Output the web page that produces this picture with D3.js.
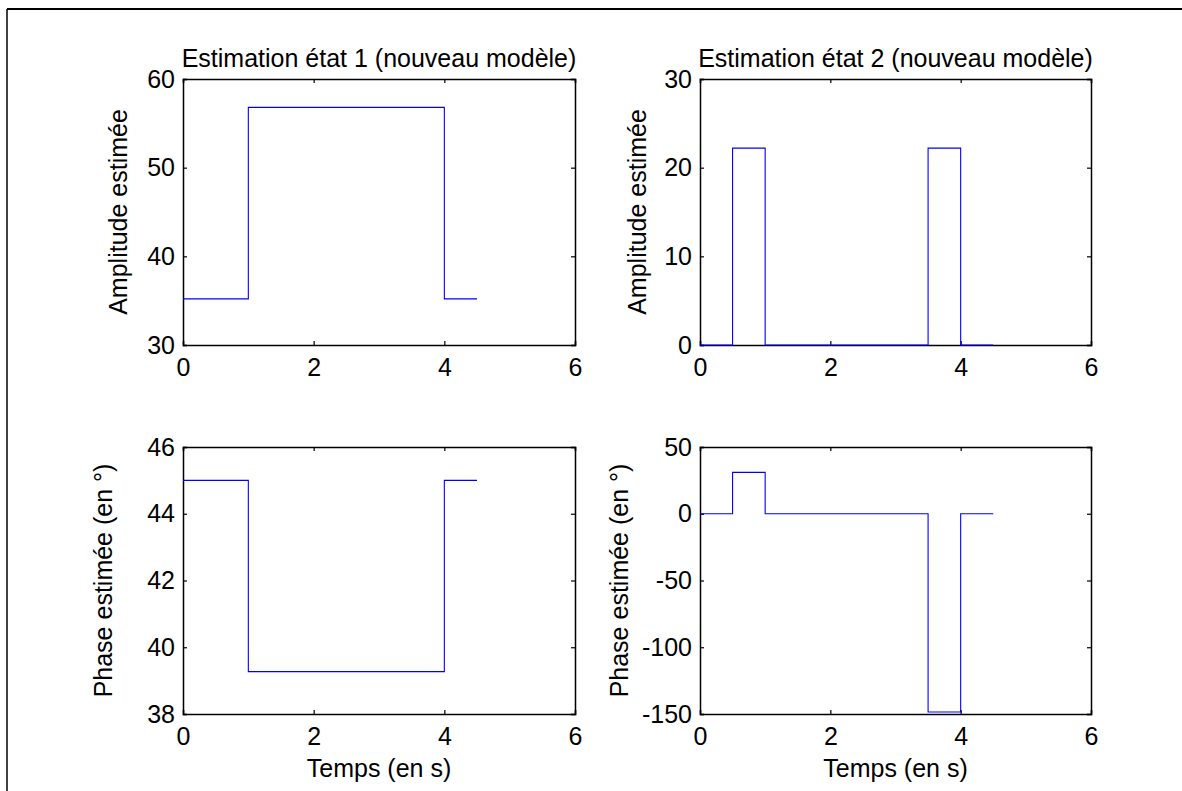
<!DOCTYPE html>
<html>
<head>
<meta charset="utf-8">
<script src="https://cdn.jsdelivr.net/npm/d3@7"></script>
<style>
  html, body { margin: 0; padding: 0; background: #fff; }
  text { font-family: "Liberation Sans", Arial, Helvetica, sans-serif; fill: #000; }
</style>
</head>
<body>
<svg id="chart" width="1182" height="791"></svg>
<script>
// ---- data ----
const xTicks = [0, 2, 4, 6];

const amp1Time = [0, 1, 4, 4.5];
const amp1Vals = [35.2, 56.8, 35.2, 35.2];
const amp1Ticks = [30, 40, 50, 60];

const amp2Time = [0, 0.5, 1, 3.5, 4, 4.5];
const amp2Vals = [0, 22.2, 0, 22.2, 0, 0];
const amp2Ticks = [0, 10, 20, 30];

const phase1Time = [0, 1, 4, 4.5];
const phase1Vals = [45.0, 39.27, 45.0, 45.0];
const phase1Ticks = [38, 40, 42, 44, 46];

const phase2Time = [0, 0.5, 1, 3.5, 4, 4.5];
const phase2Vals = [0, 31, 0, -148.5, 0, 0];
const phase2Ticks = [-150, -100, -50, 0, 50];

const titles = ["Estimation état 1 (nouveau modèle)", "Estimation état 2 (nouveau modèle)"];
const yLabels = ["Amplitude estimée", "Phase estimée (en °)"];
const xLabel = "Temps (en s)";

// ---- layout ----
const panels = [
  { t: amp1Time, v: amp1Vals, ticks: amp1Ticks, x0: 183, x1: 575, y0: 79, y1: 345, title: titles[0], ylab: yLabels[0], ylabX: 127 },
  { t: amp2Time, v: amp2Vals, ticks: amp2Ticks, x0: 700, x1: 1091, y0: 79, y1: 345, title: titles[1], ylab: yLabels[0], ylabX: 646 },
  { t: phase1Time, v: phase1Vals, ticks: phase1Ticks, x0: 183, x1: 575, y0: 447, y1: 714, xlab: xLabel, ylab: yLabels[1], ylabX: 112 },
  { t: phase2Time, v: phase2Vals, ticks: phase2Ticks, x0: 700, x1: 1091, y0: 447, y1: 714, xlab: xLabel, ylab: yLabels[1], ylabX: 628 }
];

const svg = d3.select("#chart");
const FS = 25;
const TICK = 4;

// outer frame lines (top and left)
svg.append("line").attr("x1", 7).attr("x2", 1182).attr("y1", 9).attr("y2", 9)
  .attr("stroke", "#000").attr("stroke-width", 2);
svg.append("line").attr("x1", 7).attr("x2", 7).attr("y1", 9).attr("y2", 791)
  .attr("stroke", "#000").attr("stroke-width", 1.5);

panels.forEach(p => {
  const x = d3.scaleLinear().domain([0, 6]).range([p.x0, p.x1]);
  const y = d3.scaleLinear().domain([p.ticks[0], p.ticks[p.ticks.length - 1]]).range([p.y1, p.y0]);
  const g = svg.append("g");

  const axB = d3.axisBottom(x).tickValues(xTicks).tickSize(-TICK).tickFormat(d3.format("d"));
  const axT = d3.axisTop(x).tickValues(xTicks).tickSize(-TICK).tickFormat("");
  const axL = d3.axisLeft(y).tickValues(p.ticks).tickSize(-TICK).tickPadding(8).tickFormat(d => d3.format("d")(d).replace("−", "-"));
  const axR = d3.axisRight(y).tickValues(p.ticks).tickSize(-TICK).tickFormat("");

  const gB = g.append("g").attr("transform", `translate(0,${p.y1})`).call(axB);
  const gT = g.append("g").attr("transform", `translate(0,${p.y0})`).call(axT);
  const gL = g.append("g").attr("transform", `translate(${p.x0},0)`).call(axL);
  const gR = g.append("g").attr("transform", `translate(${p.x1},0)`).call(axR);

  [gB, gT, gL, gR].forEach(a => {
    a.selectAll(".domain").attr("stroke", "#000").attr("stroke-width", 1.5);
    a.selectAll(".tick line").attr("stroke", "#000").attr("stroke-width", 1.2);
    a.selectAll("text").style("font-size", FS + "px").style("font-family", '"Liberation Sans", Arial, sans-serif').attr("fill", "#000");
  });
  gB.selectAll(".tick text").attr("dy", "0.71em").attr("y", 13);

  // step line
  const pts = p.t.map((t, i) => [t, p.v[i]]);
  const line = d3.line().x(d => x(d[0])).y(d => y(d[1])).curve(d3.curveStepAfter);
  g.append("path").datum(pts).attr("d", line)
    .attr("fill", "none").attr("stroke", "#0000ff").attr("stroke-width", 1.1);

  if (p.title) {
    g.append("text").attr("x", (p.x0 + p.x1) / 2).attr("y", p.y0 - 12)
      .attr("text-anchor", "middle").style("font-size", FS + "px").text(p.title);
  }
  if (p.xlab) {
    g.append("text").attr("x", (p.x0 + p.x1) / 2).attr("y", p.y1 + 63)
      .attr("text-anchor", "middle").style("font-size", FS + "px").text(p.xlab);
  }
  g.append("text").attr("transform", `translate(${p.ylabX},${(p.y0 + p.y1) / 2}) rotate(-90)`)
    .attr("text-anchor", "middle").style("font-size", FS + "px").text(p.ylab);
});
</script>
</body>
</html>
